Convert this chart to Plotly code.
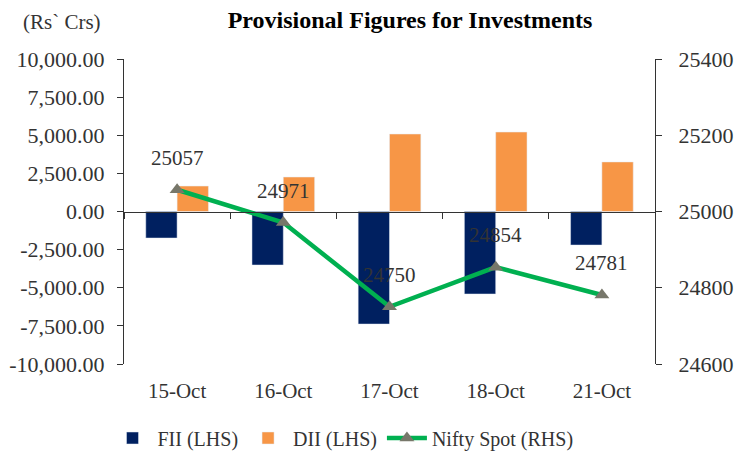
import plotly.graph_objects as go

dates = ["15-Oct", "16-Oct", "17-Oct", "18-Oct", "21-Oct"]
fii = [-1740, -3510, -7380, -5410, -2200]
dii = [1670, 2260, 5080, 5210, 3250]
nifty = [25057, 24971, 24750, 24854, 24781]

lhs_ticks = [-10000, -7500, -5000, -2500, 0, 2500, 5000, 7500, 10000]
lhs_labels = ["-10,000.00", "-7,500.00", "-5,000.00", "-2,500.00", "0.00",
              "2,500.00", "5,000.00", "7,500.00", "10,000.00"]
rhs_ticks = [24600, 24800, 25000, 25200, 25400]
rhs_labels = ["24600", "24800", "25000", "25200", "25400"]

FONT = "Liberation Serif"
TXT = "#333333"

fig = go.Figure()
fig.add_trace(go.Bar(x=dates, y=fii, name="FII (LHS)", marker=dict(color="#002060"), xaxis="x", yaxis="y"))
fig.add_trace(go.Bar(x=dates, y=dii, name="DII (LHS)", marker=dict(color="#F79646"), xaxis="x", yaxis="y"))
fig.add_trace(go.Scatter(x=dates, y=nifty, name="Nifty Spot (RHS)", mode="lines+markers",
                         line=dict(color="#00B050", width=4.5),
                         marker=dict(symbol="triangle-up", size=13, color="#77776A"),
                         xaxis="x", yaxis="y2"))
# dummy trace to show xaxis2 (zero line with category ticks)
fig.add_trace(go.Scatter(x=dates, y=[None] * len(dates), xaxis="x2", yaxis="y",
                         showlegend=False, hoverinfo="skip"))

for d, v in zip(dates, nifty):
    fig.add_annotation(x=d, y=v, xref="x", yref="y2", text=str(v), showarrow=False,
                       yshift=32, font=dict(family=FONT, size=21, color=TXT))

fig.update_layout(
    width=736, height=444,
    margin=dict(l=116, r=89, t=51, b=88, autoexpand=False),
    paper_bgcolor="white", plot_bgcolor="white",
    font=dict(family=FONT, size=21, color=TXT),
    title=dict(text="<b>Provisional Figures for Investments</b>", x=(410 - 8) / 736, xanchor="center",
               y=1 - 12 / 444, yanchor="middle", font=dict(family=FONT, size=24, color="black")),
    barmode="group", bargap=0.41, bargroupgap=0,
    xaxis=dict(domain=[0, 1], showline=False, ticks="", showgrid=False, zeroline=False,
               ticklabelstandoff=12, tickfont=dict(family=FONT, size=21, color=TXT)),
    xaxis2=dict(overlaying="x", anchor="free", position=0.5, side="bottom", showline=True,
                linecolor="#333333", linewidth=1, ticks="outside", ticklen=6, tickcolor="#333333",
                tickson="boundaries", showticklabels=False, showgrid=False, matches="x",
                type="category", categoryarray=dates, categoryorder="array"),
    yaxis=dict(range=[-10000, 10000], tickvals=lhs_ticks, ticktext=lhs_labels, showline=True,
               linecolor="#333333", linewidth=1, ticks="outside", ticklen=6, tickcolor="#333333",
               ticklabelstandoff=8, showgrid=False, zeroline=False,
               tickfont=dict(family=FONT, size=22, color=TXT)),
    yaxis2=dict(range=[24600, 25400], tickvals=rhs_ticks, ticktext=rhs_labels, overlaying="y",
                side="right", showline=True, linecolor="#333333", linewidth=1, ticks="outside",
                ticklen=6, tickcolor="#333333", ticklabelstandoff=12, showgrid=False, zeroline=False,
                tickfont=dict(family=FONT, size=22, color=TXT)),
    legend=dict(orientation="h", xref="container", yref="container", x=(343 - 8) / 736,
                xanchor="center", y=14 / 444, yanchor="middle",
                font=dict(family=FONT, size=20, color=TXT), itemwidth=40),
    showlegend=True,
)

fig.add_annotation(text="(Rs` Crs)", xref="paper", yref="paper", x=-(124 - 62) / 531, y=1 + (59 - 22) / 305,
                   xanchor="center", yanchor="middle", showarrow=False,
                   font=dict(family=FONT, size=21, color=TXT))

fig.write_html("out.html")
